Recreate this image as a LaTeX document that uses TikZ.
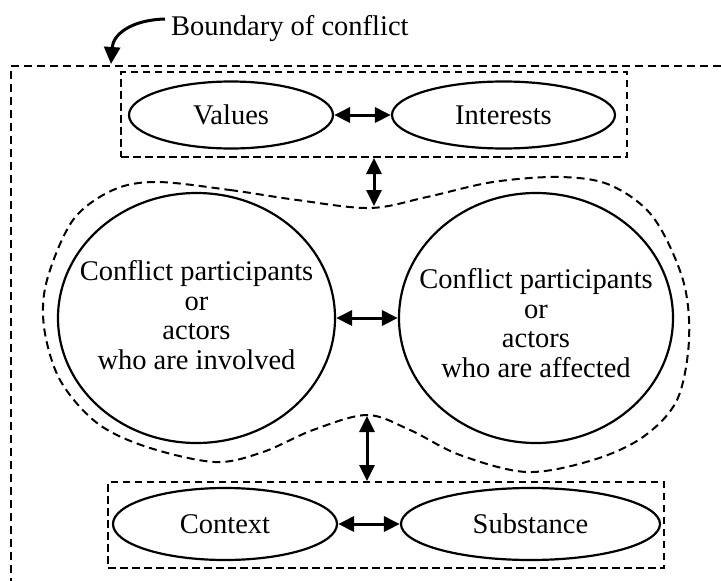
\documentclass[tikz,border=0pt]{standalone}
\usepackage{fontspec}
\setmainfont{Liberation Serif}
\usetikzlibrary{shapes.geometric,arrows.meta}
\begin{document}
\begin{tikzpicture}[x=1pt,y=-1pt,
  every node/.style={font=\fontsize{28.5}{29.5}\selectfont},
  oval/.style={draw,line width=2.2pt,ellipse,inner sep=0pt},
  groupbox/.style={draw,line width=2pt,dash pattern=on 7.5pt off 4.5pt,rectangle,inner sep=0pt},
  boundary/.style={line width=2pt,dash pattern=on 8pt off 5pt},
  blob/.style={line width=2pt,dash pattern=on 8pt off 5pt},
  twoway/.style={line width=3pt,{Triangle[length=16pt,width=15pt]}-{Triangle[length=16pt,width=15pt]}},
  oneway/.style={line width=3pt,-{Triangle[length=17pt,width=16pt]}}
]
\useasboundingbox (0,0) rectangle (721,581);

% outer boundary
\coordinate (btr) at (721,66);
\coordinate (btl) at (11,66);
\coordinate (bbl) at (11,581);
\draw[boundary] (btr) -- (btl) -- (bbl);

% label and curved arrow
\node[anchor=base west,inner sep=0pt] (blabel) at (171,35) {Boundary of conflict};
\coordinate (bstart) at (165,19);
\coordinate (btip) at (111,64);
\draw[oneway] (bstart) .. controls (130,20) and (113,35) .. (btip);

% top group
\node[groupbox,minimum width=506pt,minimum height=85pt] (topbox) at (374,114.5) {};
\node[oval,minimum width=204pt,minimum height=67pt] (values) at (231,115) {Values};
\node[oval,minimum width=223pt,minimum height=67pt] (interests) at (503.5,115) {Interests};
\draw[twoway] (values.east) -- (interests.west);

% circles
\node[oval,minimum width=277pt,minimum height=250pt] (involved) at (196.5,318) {};
\node[oval,minimum width=274pt,minimum height=250pt] (affected) at (536,318) {};
\node[align=center,inner sep=0pt] (involvedtext) at (196.5,315) {Conflict participants\\or\\actors\\who are involved};
\node[align=center,inner sep=0pt] (affectedtext) at (536,323) {Conflict participants\\or\\actors\\who are affected};
\draw[twoway] (involved.east) -- (affected.west);

% blob
\draw[blob] plot[smooth cycle,tension=0.55] coordinates {
 (157,182) (230,190) (297,200) (370,208) (427,197) (493,182) (560,177) (610,185)
 (653,217) (683,280) (689,340) (677,400) (643,437) (593,460) (527,472) (460,455)
 (410,430) (367,415) (313,430) (263,452) (215,462) (147,447) (97,423) (60,380)
 (44,327) (47,280) (73,220) (113,190)};
\coordinate (dip) at (374,206);
\coordinate (bump) at (367,416);

% bottom group
\node[groupbox,minimum width=556pt,minimum height=86pt] (bottombox) at (386,525) {};
\node[oval,minimum width=224pt,minimum height=72pt] (context) at (225,524) {Context};
\node[oval,minimum width=259pt,minimum height=72pt] (substance) at (530.5,524) {Substance};
\draw[twoway] (context.east) -- (substance.west);

% vertical arrows
\draw[twoway] (topbox.south) -- (dip);
\draw[twoway] (bump) -- (bump |- bottombox.north);
\end{tikzpicture}
\end{document}
